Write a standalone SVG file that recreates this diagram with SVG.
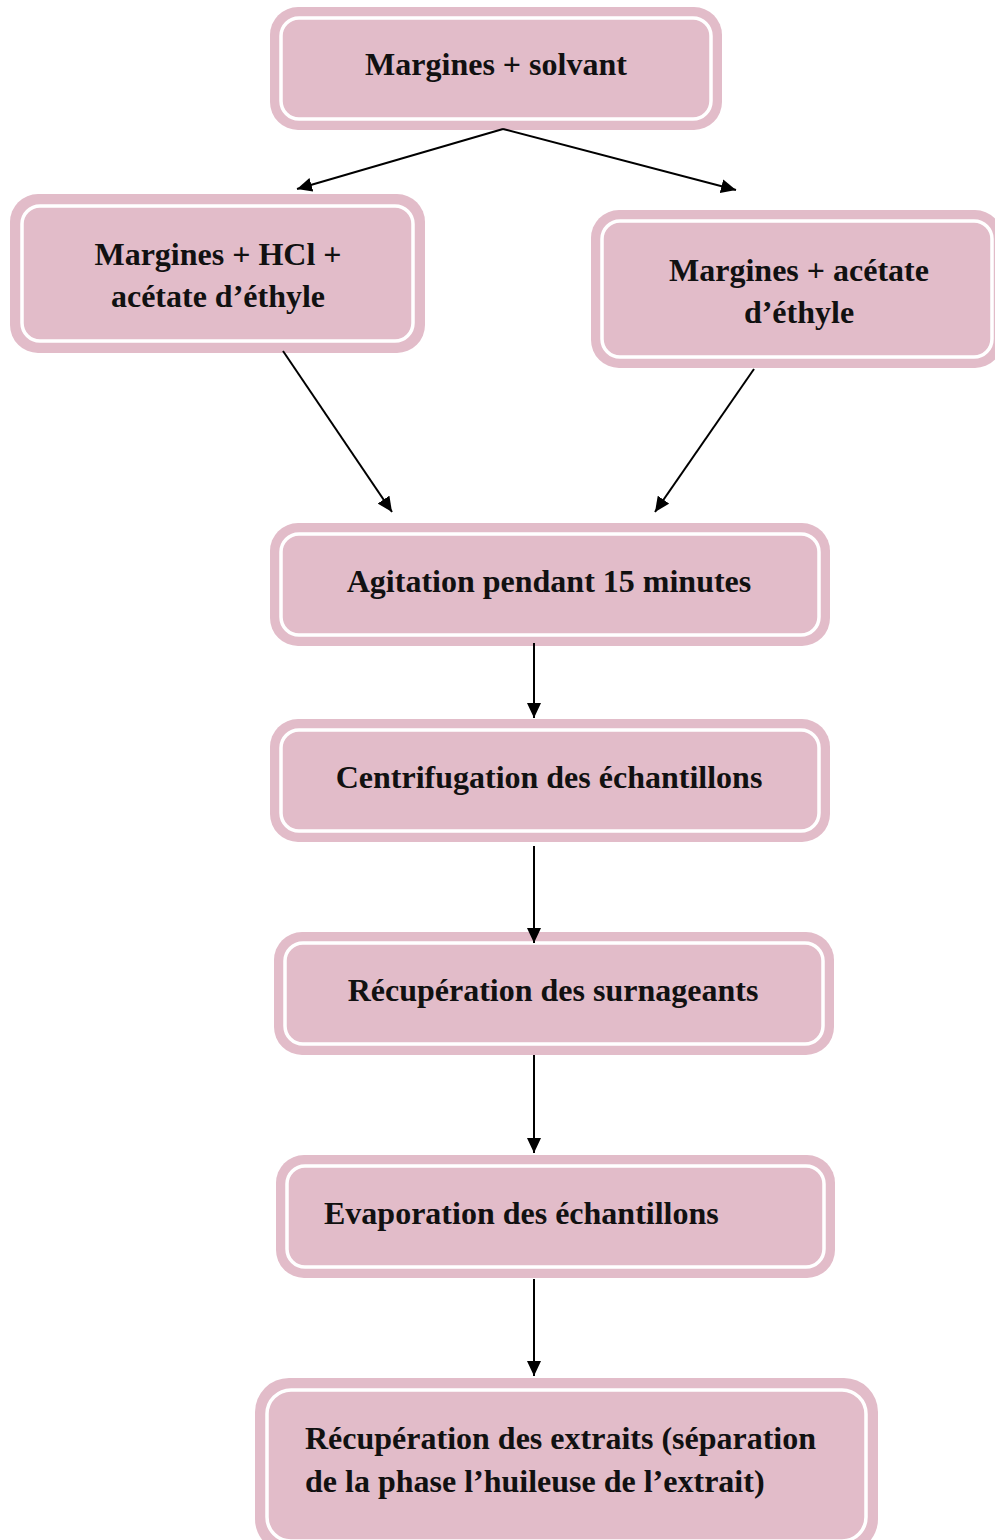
<svg xmlns="http://www.w3.org/2000/svg" width="995" height="1540" viewBox="0 0 995 1540">
<defs>
<style>
.o{fill:#e2bcc9;stroke:none}
.i{fill:#e2bcc9;stroke:#ffffff;stroke-width:3.5}
.t{font-family:"Liberation Serif","Times New Roman",serif;font-weight:bold;font-size:32px;fill:#111}
.m{text-anchor:middle}
.c{stroke:#000;stroke-width:2;fill:none;marker-end:url(#ah)}
</style>
<marker id="ah" markerWidth="15" markerHeight="14" refX="15" refY="7" orient="auto" markerUnits="userSpaceOnUse" viewBox="0 0 15 14">
<path d="M0,0 L15,7 L0,14 z" fill="#000"/>
</marker>
</defs>
<rect width="995" height="1540" fill="#fff"/>
<g id="n1">
<rect class="o" x="270" y="7" width="452" height="123" rx="28"/>
<rect class="i" x="281" y="18" width="430" height="101" rx="18"/>
<text class="t m" x="496" y="75">Margines + solvant</text>
</g>
<g id="n2">
<rect class="o" x="10" y="194" width="415" height="159" rx="28"/>
<rect class="i" x="22" y="206" width="391" height="135" rx="18"/>
<text class="t m" x="218" y="265">Margines + HCl +</text>
<text class="t m" x="218" y="307">acétate d’éthyle</text>
</g>
<g id="n3">
<rect class="o" x="591" y="210" width="412" height="158" rx="28"/>
<rect class="i" x="602" y="221" width="390" height="136" rx="18"/>
<text class="t m" x="799" y="281">Margines + acétate</text>
<text class="t m" x="799" y="323">d’éthyle</text>
</g>
<g id="n4">
<rect class="o" x="270" y="523" width="560" height="123" rx="28"/>
<rect class="i" x="281" y="534" width="538" height="101" rx="18"/>
<text class="t m" x="549" y="592">Agitation pendant 15 minutes</text>
</g>
<g id="n5">
<rect class="o" x="270" y="719" width="560" height="123" rx="28"/>
<rect class="i" x="281" y="730" width="538" height="101" rx="18"/>
<text class="t m" x="549" y="788">Centrifugation des échantillons</text>
</g>
<g id="n6">
<rect class="o" x="274" y="932" width="560" height="123" rx="28"/>
<rect class="i" x="285" y="943" width="538" height="101" rx="18"/>
<text class="t m" x="553" y="1001">Récupération des surnageants</text>
</g>
<g id="n7">
<rect class="o" x="276" y="1155" width="559" height="123" rx="28"/>
<rect class="i" x="287" y="1166" width="537" height="101" rx="18"/>
<text class="t" x="324" y="1224">Evaporation des échantillons</text>
</g>
<g id="n8">
<rect class="o" x="255" y="1378" width="623" height="175" rx="34"/>
<rect class="i" x="267" y="1390" width="599" height="151" rx="24"/>
<text class="t" x="305" y="1449">Récupération des extraits (séparation</text>
<text class="t" x="305" y="1492">de la phase l’huileuse de l’extrait)</text>
</g>
<g id="connectors">
<line class="c" x1="503" y1="129" x2="297" y2="189"/>
<line class="c" x1="503" y1="129" x2="736" y2="190"/>
<line class="c" x1="283" y1="351" x2="392" y2="512"/>
<line class="c" x1="754" y1="369" x2="655" y2="512"/>
<line class="c" x1="534" y1="643" x2="534" y2="718"/>
<line class="c" x1="534" y1="846" x2="534" y2="943"/>
<line class="c" x1="534" y1="1055" x2="534" y2="1153"/>
<line class="c" x1="534" y1="1279" x2="534" y2="1376"/>
</g>
</svg>
